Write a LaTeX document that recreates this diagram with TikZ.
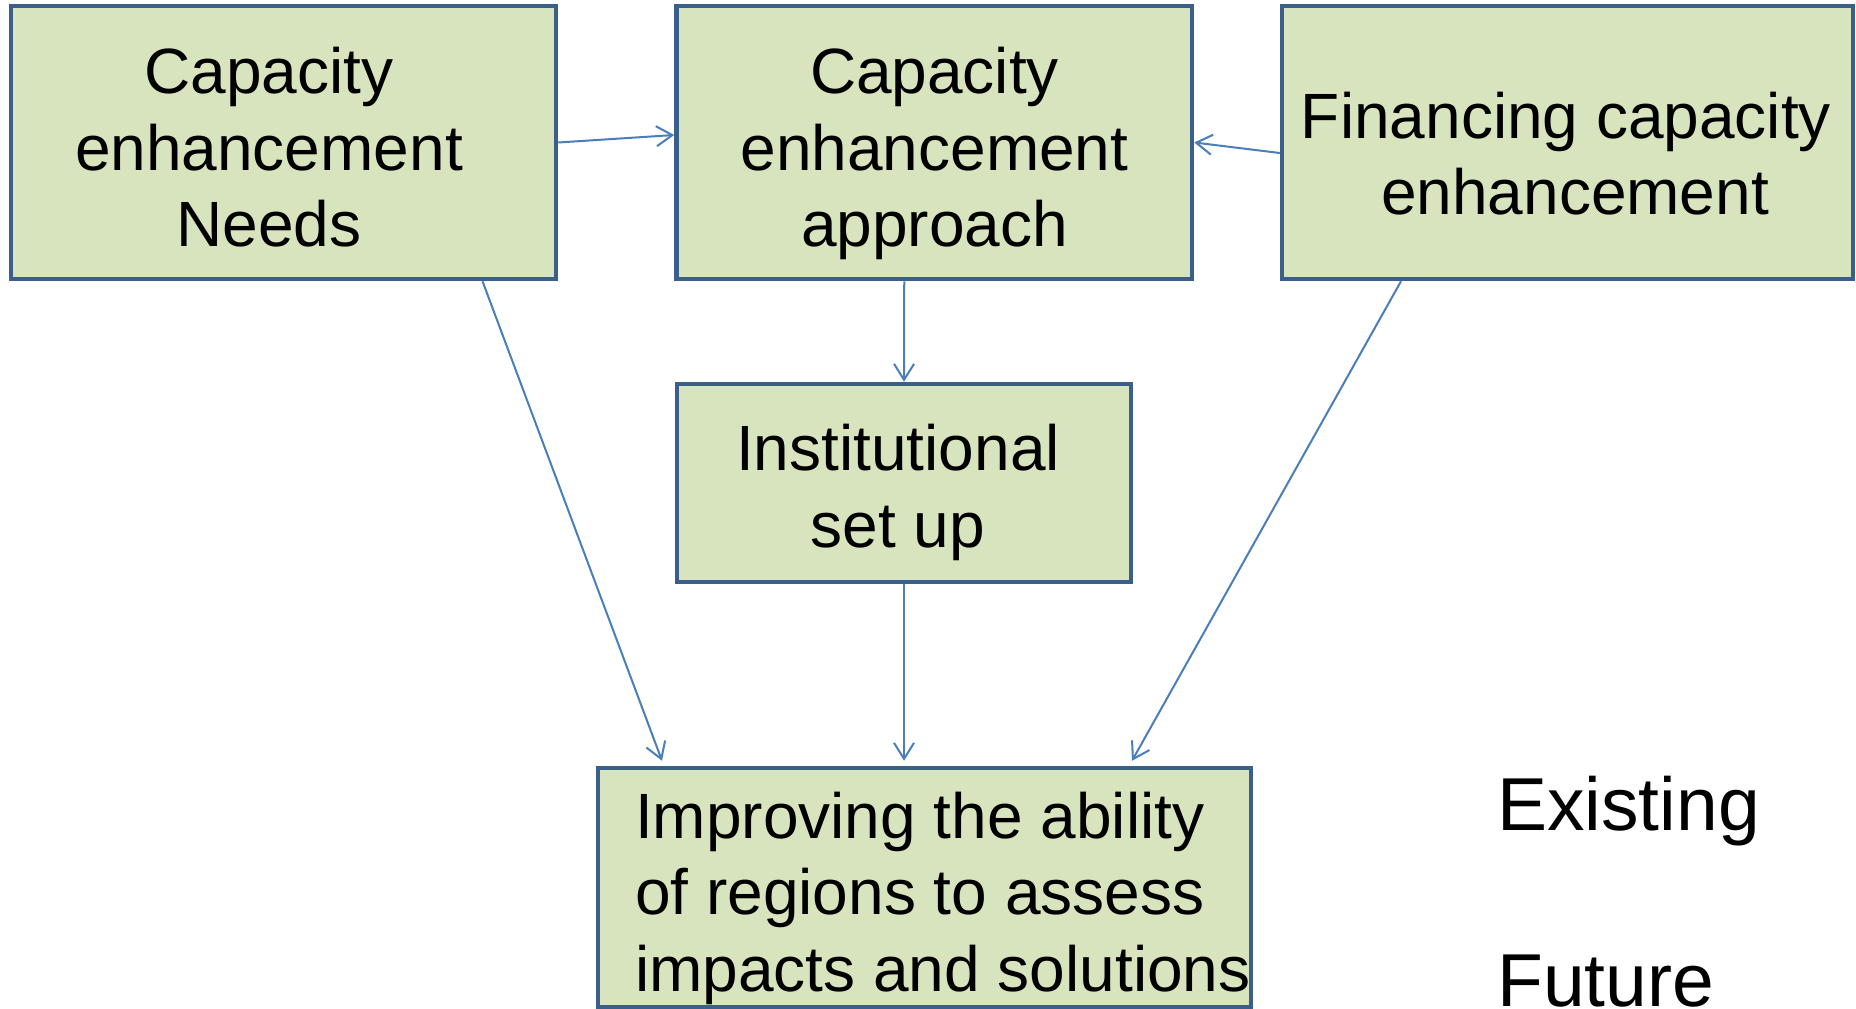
\documentclass[tikz,border=0pt]{standalone}
\usepackage{fontspec}
\setmainfont{Liberation Sans}
\usetikzlibrary{arrows.meta,calc}
\definecolor{boxfill}{HTML}{D7E4BD}
\definecolor{boxline}{HTML}{3A5F8B}
\definecolor{arrowc}{HTML}{4A7EBB}
\begin{document}
\begin{tikzpicture}[x=1pt,y=-1pt,
  box/.style={draw=boxline, fill=boxfill, line width=4.5pt, rectangle, inner sep=0pt},
  lbl/.style={inner sep=0pt, font=\fontsize{64}{76.5}\selectfont, text=black},
  side/.style={inner sep=0pt, font=\fontsize{75}{88}\selectfont, anchor=base west, text=black},
  conn/.style={draw=arrowc, line width=2pt, -{Straight Barb[length=16pt,width=20pt]}}
]
\fill[white] (0,0) rectangle (1856,1009);
\useasboundingbox (0,0) rectangle (1856,1009);

% boxes
\node[box, minimum width=545pt, minimum height=273pt] (b1) at (283.5,142.5) {};
\node[box, minimum width=515.5pt, minimum height=273pt] (b2) at (934.25,142.5) {};
\node[box, minimum width=571pt, minimum height=273pt] (b3) at (1567.5,142.5) {};
\node[box, minimum width=454pt, minimum height=198pt] (b4) at (904,483) {};
\node[box, minimum width=653pt, minimum height=239pt] (b5) at (924.5,887.5) {};

% texts
\node[lbl, align=center] (t1) at (269,147.3) {Capacity\\enhancement\\Needs};
\node[lbl, align=center] (t2) at (934.5,153.5) {Capacity\\enhancement\\approach};
\node[lbl, align=center] (t3) at (1566,153.6) {Financing capacity\\\hspace*{18pt}enhancement};
\node[lbl, align=center] (t4) at (898,492.4) {Institutional\\set up};
\node[lbl, align=left, anchor=west] (t5) at (635,898.4) {Improving the ability\\of regions to assess\\impacts and solutions};

\node[side] (existing) at (1497,830) {Existing};
\node[side] (future) at (1497,1006) {Future};

% connectors
\draw[conn] (b1.east) -- ([yshift=7.5pt]b2.west);
\draw[conn] ([yshift=-10.5pt]b3.west) -- (b2.east);
\draw[conn] ([xshift=-30pt]b2.south) -- (b4.north);
\draw[conn, shorten >=5pt] (b4.south) -- (b4.south |- b5.north);
\draw[conn] ([xshift=199pt]b1.south) -- ([xshift=-262.5pt,yshift=5pt]b5.north);
\draw[conn] ([xshift=-166.5pt]b3.south) -- ([xshift=207.5pt,yshift=5pt]b5.north);
\end{tikzpicture}
\end{document}
